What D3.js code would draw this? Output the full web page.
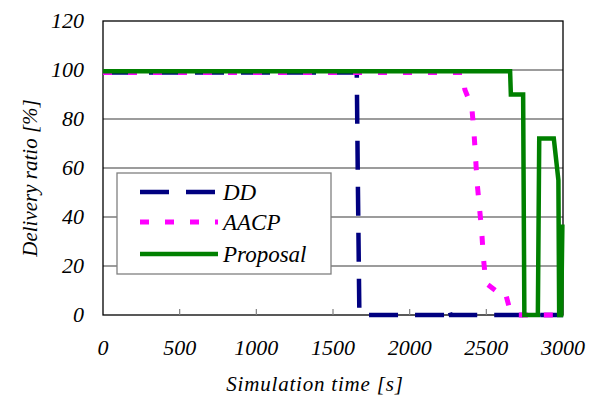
<!DOCTYPE html>
<html>
<head>
<meta charset="utf-8">
<script src="https://cdn.jsdelivr.net/npm/d3@7"></script>
</head>
<body style="margin:0">
<svg width="594" height="403"></svg>
<script>
// series: [time (s), delivery ratio (%)]
const ddData = [[0, 99], [1655, 99], [1662, 55], [1672, 0], [2235, 0], [2250, 3.5], [2268, 0], [3000, 0]];
const aacpData = [[0, 99], [2345, 99], [2360, 92], [2405, 85], [2420, 74], [2440, 54], [2470, 34], [2480, 24],
                  [2497, 13], [2560, 10], [2620, 10], [2650, 3], [2680, 0], [3000, 0]];
const proposalData = [[0, 99.5], [2655, 99.5], [2660, 90], [2740, 90], [2748, 0], [2836, 0], [2845, 72],
                      [2940, 72], [2970, 55], [2975, 0], [2988, 0], [2996, 37]];

const xTicks = [0, 500, 1000, 1500, 2000, 2500, 3000];
const yTicks = [0, 20, 40, 60, 80, 100, 120];
const seriesNames = ["DD", "AACP", "Proposal"];

const svg = d3.select("svg");
const margin = { left: 103, right: 31, top: 21, bottom: 88 };
const width = 594, height = 403;

const x = d3.scaleLinear().domain([0, 3000]).range([margin.left, width - margin.right]);
const y = d3.scaleLinear().domain([0, 120]).range([height - margin.bottom, margin.top]);

const styles = {
  DD: { color: "#000080", dash: "29,17", width: 4.5 },
  AACP: { color: "#ff00ff", dash: "9,16", width: 5 },
  Proposal: { color: "#008000", dash: null, width: 4.5 }
};

// grid lines
svg.append("g")
  .selectAll("line")
  .data(yTicks.filter(d => d > 0 && d < 120))
  .enter().append("line")
    .attr("x1", x(0)).attr("x2", x(3000))
    .attr("y1", d => y(d)).attr("y2", d => y(d))
    .attr("stroke", "#3a3a3a").attr("stroke-width", 1.2);

// frame
svg.append("rect")
  .attr("x", x(0)).attr("y", y(120))
  .attr("width", x(3000) - x(0)).attr("height", y(0) - y(120))
  .attr("fill", "none").attr("stroke", "#000").attr("stroke-width", 1.3);

// x tick marks (inside)
svg.append("g")
  .selectAll("line")
  .data(xTicks.slice(1, -1))
  .enter().append("line")
    .attr("x1", d => x(d)).attr("x2", d => x(d))
    .attr("y1", y(0)).attr("y2", y(0) - 6)
    .attr("stroke", "#808080").attr("stroke-width", 1.2);

// tick labels
svg.append("g")
  .selectAll("text")
  .data(xTicks)
  .enter().append("text")
    .attr("x", d => x(d)).attr("y", y(0) + 40)
    .attr("text-anchor", "middle")
    .style("font-family", "Tinos")
    .style("font-style", "italic")
    .style("font-size", "22px")
    .text(d => d);

svg.append("g")
  .selectAll("text")
  .data(yTicks)
  .enter().append("text")
    .attr("x", 84).attr("y", d => y(d) + 7)
    .attr("text-anchor", "end")
    .style("font-family", "Tinos")
    .style("font-style", "italic")
    .style("font-size", "22px")
    .text(d => d);

// axis titles
svg.append("text")
  .attr("x", 315).attr("y", 391)
  .attr("text-anchor", "middle")
  .style("font-family", "Tinos")
  .style("font-style", "italic")
  .style("font-size", "21px")
  .style("letter-spacing", "0.8px")
  .text("Simulation time [s]");

svg.append("text")
  .attr("transform", "translate(37,178) rotate(-90)")
  .attr("text-anchor", "middle")
  .style("font-family", "Tinos")
  .style("font-style", "italic")
  .style("font-size", "21px")
  .text("Delivery ratio [%]");

// series lines
const line = d3.line().x(d => x(d[0])).y(d => y(d[1]));
const allData = { DD: ddData, AACP: aacpData, Proposal: proposalData };

svg.append("g")
  .selectAll("path")
  .data(seriesNames)
  .enter().append("path")
    .attr("d", name => line(allData[name]))
    .attr("fill", "none")
    .attr("stroke", name => styles[name].color)
    .attr("stroke-width", name => styles[name].width)
    .attr("stroke-dasharray", name => styles[name].dash)
    .attr("stroke-linejoin", "miter");

// legend
const legend = svg.append("g").attr("transform", "translate(117,173)");
legend.append("rect")
  .attr("width", 214).attr("height", 101)
  .attr("fill", "#fff").attr("stroke", "#808080").attr("stroke-width", 1.3);

const item = legend.selectAll("g.item")
  .data(seriesNames)
  .enter().append("g")
    .attr("class", "item")
    .attr("transform", (d, i) => "translate(0," + [19, 49, 81][i] + ")");

item.append("line")
  .attr("x1", 23).attr("x2", 101)
  .attr("stroke", d => styles[d].color)
  .attr("stroke-width", d => styles[d].width)
  .attr("stroke-dasharray", d => styles[d].dash);

item.append("text")
  .attr("x", 106).attr("y", 8)
  .style("font-family", "Tinos")
  .style("font-style", "italic")
  .style("font-size", "23px")
  .text(d => d);
</script>
</body>
</html>
